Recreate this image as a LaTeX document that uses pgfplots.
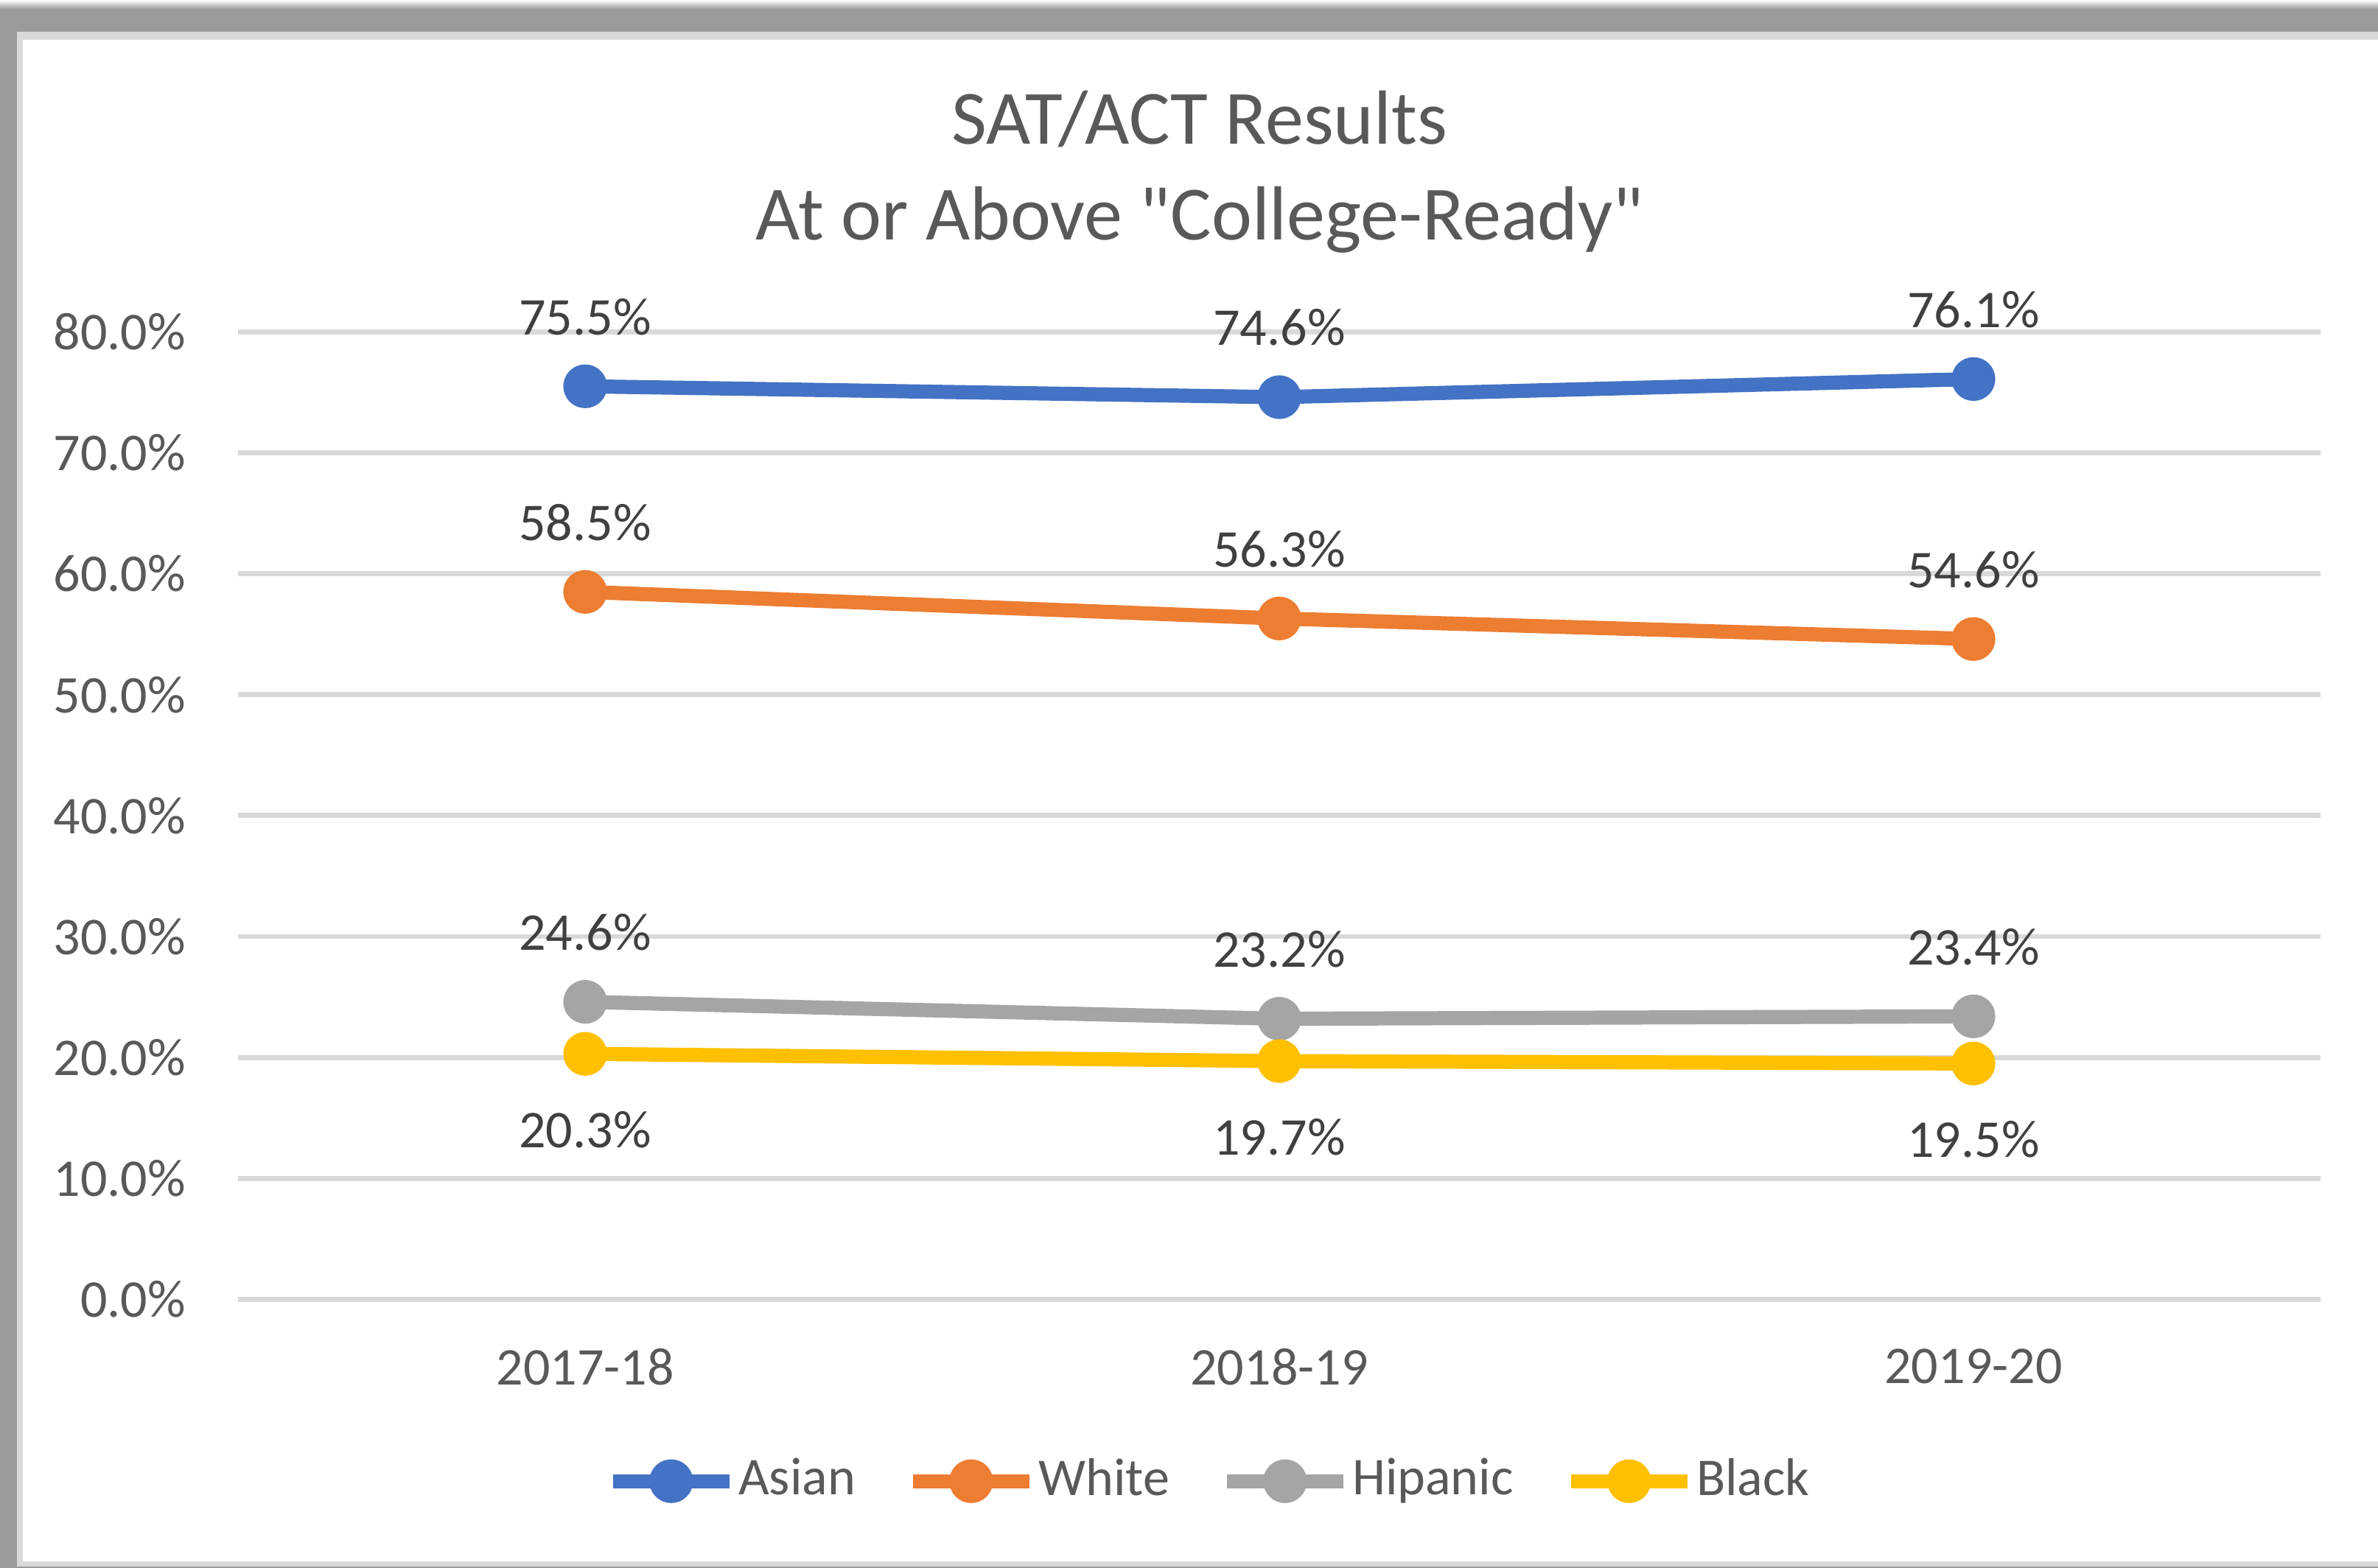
\documentclass[border=0pt]{standalone}
\usepackage{pgfplots}
\pgfplotsset{compat=1.18}
\usepackage{fontspec}
\setmainfont{Carlito}[Ligatures=TeXOff]

\definecolor{asian}{HTML}{4472C4}
\definecolor{white}{HTML}{FFFFFF}
\definecolor{whitegrp}{HTML}{ED7D31}
\definecolor{hisp}{HTML}{A5A5A5}
\definecolor{black}{HTML}{000000}
\definecolor{blackgrp}{HTML}{FFC000}
\definecolor{gridgray}{HTML}{D9D9D9}
\definecolor{framedark}{HTML}{9B9B9B}
\definecolor{txt}{HTML}{595959}
\definecolor{lbl}{HTML}{404040}

\newcommand{\pct}{\pgfmathprintnumber[fixed,fixed zerofill,precision=1]{\pgfplotspointmeta}\%}

\begin{document}
\begin{tikzpicture}
% screenshot frame
\path[use as bounding box] (0,0) rectangle (403pt,265.7pt);
\fill[framedark] (0,0) rectangle (403pt,265.7pt);
\shade[top color=white, bottom color=framedark] (0,264.2pt) rectangle (403pt,265.7pt);
\fill[gridgray] (2.87pt,0) rectangle (403pt,260.33pt);
\fill[white] (3.87pt,1.12pt) rectangle (403pt,258.96pt);
\draw[framedark, line width=0.25pt] (2.87pt,0.12pt) -- (403pt,0.12pt);

% title
\node[anchor=base, text=txt, font=\fontsize{13}{15}\selectfont, inner sep=0pt] at (203.3pt,241.3pt) {SAT/ACT Results};
\node[anchor=base, text=txt, font=\fontsize{13}{15}\selectfont, inner sep=0pt] at (203.3pt,225.1pt) {At or Above "College-Ready"};

\begin{axis}[
  at={(40.35pt,45.49pt)}, anchor=south west,
  scale only axis,
  width=352.9pt, height=163.97pt,
  xmin=-0.5, xmax=2.5,
  ymin=0, ymax=80,
  xtick={0,1,2},
  xticklabels={2017-18,2018-19,2019-20},
  ytick={0,10,...,80},
  yticklabel={\pgfmathprintnumber[fixed,fixed zerofill,precision=1]{\tick}\%},
  /pgf/number format/assume math mode=true,
  axis line style={draw=none},
  major tick length=0pt,
  ymajorgrids=true,
  grid style={gridgray, line width=0.87pt},
  tick label style={font=\fontsize{9}{11}\selectfont, text=txt, inner sep=0pt},
  yticklabel style={xshift=-8.7pt},
  xticklabel style={yshift=-8.2pt},
  clip=false,
  point meta=y,
  nodes near coords={\pct},
  every node near coord/.append style={font=\fontsize{9}{11}\selectfont, text=lbl, inner sep=0pt},
  legend columns=4,
  legend style={at={(0.466,-0.188)}, anchor=center, draw=none, fill=none,
    font=\fontsize{9}{11}\selectfont, text=txt, inner sep=0pt,
    nodes={inner sep=0.3pt},
    /tikz/every even column/.append style={column sep=8.2pt}},
  legend image code/.code={\draw[mark repeat=2,mark phase=2,#1] plot coordinates {(0pt,0pt) (9.9pt,0pt) (19.8pt,0pt)};},
  every axis plot/.append style={line width=2.4pt, mark=*, mark size=2.5pt},
]
\addplot[asian, mark options={draw=none, fill=asian},
  every node near coord/.append style={anchor=center, yshift=11.8pt}]
  coordinates {(0,75.5) (1,74.6) (2,76.1)};
\addlegendentry{Asian}
\addplot[whitegrp, mark options={draw=none, fill=whitegrp},
  every node near coord/.append style={anchor=center, yshift=11.8pt}]
  coordinates {(0,58.5) (1,56.3) (2,54.6)};
\addlegendentry{White}
\addplot[hisp, mark options={draw=none, fill=hisp},
  every node near coord/.append style={anchor=center, yshift=11.8pt}]
  coordinates {(0,24.6) (1,23.2) (2,23.4)};
\addlegendentry{Hipanic}
\addplot[blackgrp, mark options={draw=none, fill=blackgrp},
  every node near coord/.append style={anchor=center, yshift=-12.9pt}]
  coordinates {(0,20.3) (1,19.7) (2,19.5)};
\addlegendentry{Black}
\end{axis}
\end{tikzpicture}
\end{document}
